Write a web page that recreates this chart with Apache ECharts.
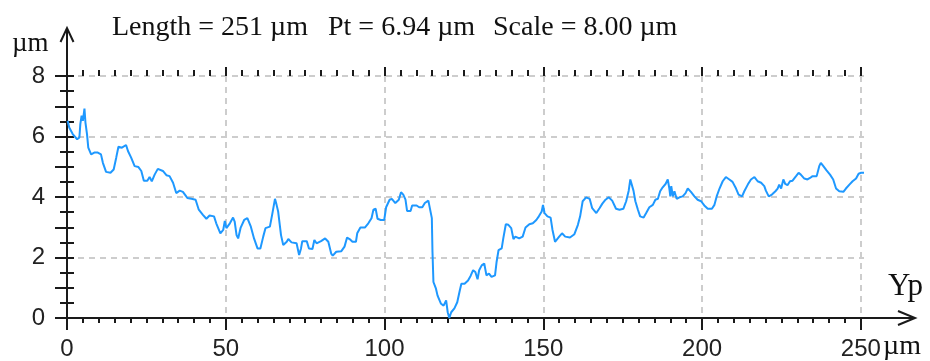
<!DOCTYPE html>
<html><head><meta charset="utf-8">
<script src="https://cdn.jsdelivr.net/npm/echarts@6/dist/echarts.min.js"></script>
<style>html,body{margin:0;padding:0;background:#fff}#c{width:930px;height:361px}</style>
</head><body><div id="c"></div>
<script>
const titleParts = ['Length = 251 \u00b5m', 'Pt = 6.94 \u00b5m', 'Scale = 8.00 \u00b5m'];
const yName = '\u00b5m';
const xName = '\u00b5m';
const sideName = 'Yp';
const xLabelVals = [0, 50, 100, 150, 200, 250];
const yLabelVals = [0, 2, 4, 6, 8];

const seg1 = [[0.2,6.52],[0.7,6.30],[1.8,6.08],[3.2,5.91],[3.9,5.97],[4.2,6.41],[4.6,6.69],[5.0,6.52],[5.5,6.92],[5.8,6.47],
[6.3,6.08],[6.7,5.63],[7.6,5.41],[8.6,5.47],[9.7,5.47],[10.7,5.41],[11.3,5.13],[12.3,4.83],[13.7,4.80],[14.7,4.91],
[15.5,5.30],[16.2,5.66],[17.3,5.63],[18.6,5.72],[19.2,5.52],[20.2,5.30],[21.3,5.02],[22.5,4.99],[23.4,4.86],[24.2,4.54],
[25.3,4.54],[26.0,4.66],[26.7,4.52],[27.6,4.74],[28.6,4.93],[30.2,4.86],[31.3,4.72],[32.3,4.69],[33.4,4.47],[34.4,4.13],
[35.5,4.21],[36.5,4.17],[37.9,3.97],[39.2,3.94],[40.5,3.91],[41.5,3.58],[42.8,3.41],[43.9,3.28],[44.9,3.39],[46.3,3.36],
[47.0,3.13],[48.3,2.80],[49.2,2.91],[49.7,3.21],[50.2,2.97],[50.7,3.02],[51.3,3.13],[51.8,3.19],[52.3,3.32],[52.8,3.19],
[53.4,2.74],[53.9,2.63],[54.7,2.99],[55.8,3.24],[56.8,3.30],[57.9,3.02],[58.9,2.63],[60.0,2.30],[60.9,2.30],[61.8,2.69],
[62.5,2.97],[63.9,3.02],[64.6,3.41],[65.5,3.94],[66.0,3.74],[66.5,3.52],[67.4,2.74],[68.1,2.41],[69.2,2.52],[69.7,2.61],
[70.7,2.50],[72.3,2.47],[73.1,2.08],[73.7,2.30],[74.1,2.54],[75.5,2.54],[76.2,2.30],[77.3,2.28],[77.9,2.58],[78.6,2.47],
[79.2,2.41],[80.0,2.54],[81.3,2.63],[82.3,2.52]];

const seg2 = [[83.2,2.13],[83.7,2.06],[84.8,2.19],[86.4,2.21],[87.4,2.36],[88.2,2.66],[89.0,2.61],[89.9,2.52],[91.0,2.52],[91.4,2.80],
[92.4,2.99],[93.8,2.99],[94.9,3.13],[95.9,3.30],[96.5,3.58],[97.2,3.61],[97.8,3.28],[98.8,3.24],[99.9,3.24],[100.5,3.66],
[101.6,3.91],[102.3,3.94],[103.4,3.80],[104.5,3.91],[105.2,4.16],[105.9,4.08],[106.6,3.91],[107.1,3.54],[108.2,3.54],[108.7,3.72],
[110.1,3.72],[110.9,3.66],[111.9,3.66],[112.7,3.80],[113.8,3.88],[114.4,3.88],[114.9,3.30],[115.1,2.19],[115.4,1.19],[116.2,0.97],
[116.7,0.74],[117.2,0.80],[117.8,0.47],[118.6,0.41],[119.4,0.58],[119.9,0.19],[120.4,0.0],[121.0,0.19],[122.0,0.32],[122.9,0.52],
[123.7,0.91],[124.2,1.13],[125.2,1.13],[126.3,1.24],[127.1,1.39],[127.9,1.58],[128.6,1.52],[129.3,1.28],[129.8,1.58],[130.6,1.74],
[131.4,1.80],[132.1,1.41],[132.9,1.47],[133.7,1.36],[134.8,1.41],[135.3,1.86],[135.9,2.24],[136.9,2.30],[137.4,2.63],[138.2,3.10],
[139.0,3.08],[139.9,2.97],[140.6,2.61],[141.2,2.69],[142.4,2.63],[143.5,2.69],[144.4,2.99],[145.6,3.10],[146.7,3.13],[147.8,3.24],
[148.6,3.36],[149.5,3.52],[149.9,3.74],[150.4,3.47],[151.3,3.36],[152.3,3.32],[152.9,2.91],[153.7,2.52],[155.0,2.69],[155.9,2.80],
[156.9,2.69],[158.4,2.66],[159.8,2.77],[160.9,3.08],[161.6,3.36],[162.4,3.86],[163.5,3.99],[164.6,3.94],[165.4,3.63],[166.7,3.47]];

const seg3 = [[167.7,3.63],[168.6,3.78],[169.6,3.91],[170.6,3.99],[171.7,3.88],[172.9,3.61],[174.0,3.58],[175.2,3.61],[176.1,3.86],[176.9,4.21],
[177.4,4.58],[178.0,4.58],[178.4,4.21],[179.0,3.86],[179.8,3.58],[180.5,3.36],[181.6,3.32],[182.4,3.47],[183.4,3.66],[184.5,3.74],
[185.3,3.91],[186.1,3.94],[186.8,4.19],[187.6,4.32],[188.5,4.43],[189.2,4.58],[189.7,4.28],[190.0,4.02],[190.3,4.36],[190.8,4.02],
[191.3,4.19],[192.0,3.94],[192.9,3.99],[193.9,4.02],[194.8,4.13],[195.5,4.28],[196.5,4.17],[197.6,4.02],[198.6,3.91],[199.7,3.86],
[200.7,3.72],[201.8,3.61],[203.1,3.61],[203.9,3.74],[204.6,4.02],[205.5,4.28],[206.5,4.52],[207.5,4.66],[208.6,4.58],[209.6,4.50],
[210.7,4.28],[211.5,4.08],[212.6,4.02],[213.3,4.19],[214.4,4.41],[215.4,4.58],[216.5,4.66],[217.5,4.52],[218.6,4.47],[219.6,4.36],
[220.1,4.21],[221.0,4.02],[222.0,4.08],[223.1,4.19],[223.8,4.28],[224.3,4.41],[224.9,4.28],[225.6,4.58],[226.2,4.43],[226.9,4.39],
[227.7,4.52],[228.5,4.54],[229.6,4.69],[230.4,4.80],[231.1,4.74],[232.2,4.61],[233.2,4.58],[234.0,4.63],[234.8,4.69],[236.1,4.69],
[236.9,5.02],[237.4,5.13],[238.2,5.02],[239.2,4.88],[240.3,4.74],[241.3,4.58],[242.2,4.28],[243.2,4.19],[244.5,4.17],[245.3,4.28],
[246.4,4.41],[247.4,4.52],[248.5,4.61],[249.3,4.77],[250.1,4.80],[251.0,4.80]];

const G = { left: 67, top: 76, width: 797, height: 242 };
const X_MAX = 251, X_TICK_MAX = 250, Y_MAX = 8;
const AX = '#1a1a1a';
const GRIDC = '#cdcdcd';
const LABEL_FONT = '"Liberation Sans", Arial, sans-serif';
const SERIF = '"Liberation Serif", "Times New Roman", serif';

const chart = echarts.init(document.getElementById('c'), null, { renderer: 'canvas' });
const right = G.left + G.width, bottom = G.top + G.height;
const dashed = { show: true, lineStyle: { color: GRIDC, width: 2, type: [6, 5] } };
const tickStyle = { color: AX, width: 2 };
const titleX = [112, 328, 493];

chart.setOption({
  animation: false,
  backgroundColor: '#fff',
  grid: [
    { left: G.left, top: G.top, width: G.width, height: G.height },
    { left: G.left, top: G.top, width: G.width * X_TICK_MAX / X_MAX, height: G.height }
  ],
  xAxis: [
    { gridIndex: 0, type: 'value', position: 'bottom', min: 0, max: X_MAX,
      axisLine: { show: true, lineStyle: { color: AX, width: 2 } },
      axisTick: { show: false }, axisLabel: { show: false }, splitLine: { show: false } },
    { gridIndex: 0, type: 'value', position: 'top', min: 0, max: X_MAX,
      axisLine: { show: true, lineStyle: { color: AX, width: 2 } },
      axisTick: { show: false }, axisLabel: { show: false }, splitLine: { show: false } },
    { gridIndex: 1, type: 'value', position: 'bottom', min: 0, max: X_TICK_MAX, interval: 50,
      axisLine: { show: false },
      axisTick: { show: true, inside: false, length: 12, lineStyle: tickStyle },
      minorTick: { show: true, splitNumber: 10, length: 5, lineStyle: tickStyle },
      axisLabel: { show: true, margin: 19, fontSize: 24, fontFamily: LABEL_FONT, color: '#222',
        formatter: v => xLabelVals.includes(v) ? String(v) : '' },
      splitLine: dashed },
    { gridIndex: 1, type: 'value', position: 'top', min: 0, max: X_TICK_MAX, interval: 50,
      axisLine: { show: false },
      axisTick: { show: true, inside: false, length: 9, lineStyle: tickStyle },
      minorTick: { show: true, splitNumber: 10, length: 6, lineStyle: tickStyle },
      axisLabel: { show: false }, splitLine: { show: false } }
  ],
  yAxis: [
    { gridIndex: 0, type: 'value', position: 'left', min: 0, max: Y_MAX, interval: 1,
      axisLine: { show: true, lineStyle: { color: AX, width: 2 } },
      axisTick: { show: true, inside: false, length: 12, lineStyle: tickStyle },
      minorTick: { show: true, splitNumber: 2, length: 7, lineStyle: tickStyle },
      axisLabel: { show: true, margin: 22, fontSize: 24, fontFamily: LABEL_FONT, color: '#222',
        formatter: v => yLabelVals.includes(v) ? String(v) : '' },
      splitLine: { show: false } },
    { gridIndex: 0, type: 'value', position: 'right', min: 0, max: Y_MAX, interval: 2,
      axisLine: { show: true, lineStyle: { color: AX, width: 2 } },
      axisTick: { show: true, inside: false, length: 7, lineStyle: tickStyle },
      minorTick: { show: true, splitNumber: 4, length: 7, lineStyle: tickStyle },
      axisLabel: { show: false }, splitLine: dashed },
    { gridIndex: 1, type: 'value', show: false, min: 0, max: Y_MAX }
  ],
  series: [{
    type: 'line', xAxisIndex: 0, yAxisIndex: 0,
    data: seg1.concat(seg2, seg3),
    showSymbol: false, symbol: 'none', z: 5,
    lineStyle: { color: '#1e98ff', width: 2 }
  }],
  graphic: [
    { type: 'polyline', shape: { points: [[G.left, G.top], [G.left, 28]] }, style: { stroke: AX, lineWidth: 2, fill: null } },
    { type: 'polyline', shape: { points: [[G.left - 6.5, 42], [G.left, 28], [G.left + 6.5, 42]] }, style: { stroke: AX, lineWidth: 2, fill: null } },
    { type: 'polyline', shape: { points: [[right, bottom], [915, bottom]] }, style: { stroke: AX, lineWidth: 2, fill: null } },
    { type: 'polyline', shape: { points: [[898, bottom - 7], [915, bottom], [898, bottom + 7]] }, style: { stroke: AX, lineWidth: 2, fill: null } }
  ].concat(titleParts.map((t, i) => ({ type: 'text', x: titleX[i], y: 28,
      style: { text: t, font: '28px ' + SERIF, fill: '#111', verticalAlign: 'middle' } })))
   .concat([
    { type: 'text', x: 12, y: 44, style: { text: yName, font: '27px ' + SERIF, fill: '#111', verticalAlign: 'middle' } },
    { type: 'text', x: 888, y: 287, style: { text: sideName, font: '31px ' + SERIF, fill: '#111', verticalAlign: 'middle' } },
    { type: 'text', x: 883, y: 347, style: { text: xName, font: '28px ' + SERIF, fill: '#111', verticalAlign: 'middle' } }
  ])
});
</script>
</body></html>
